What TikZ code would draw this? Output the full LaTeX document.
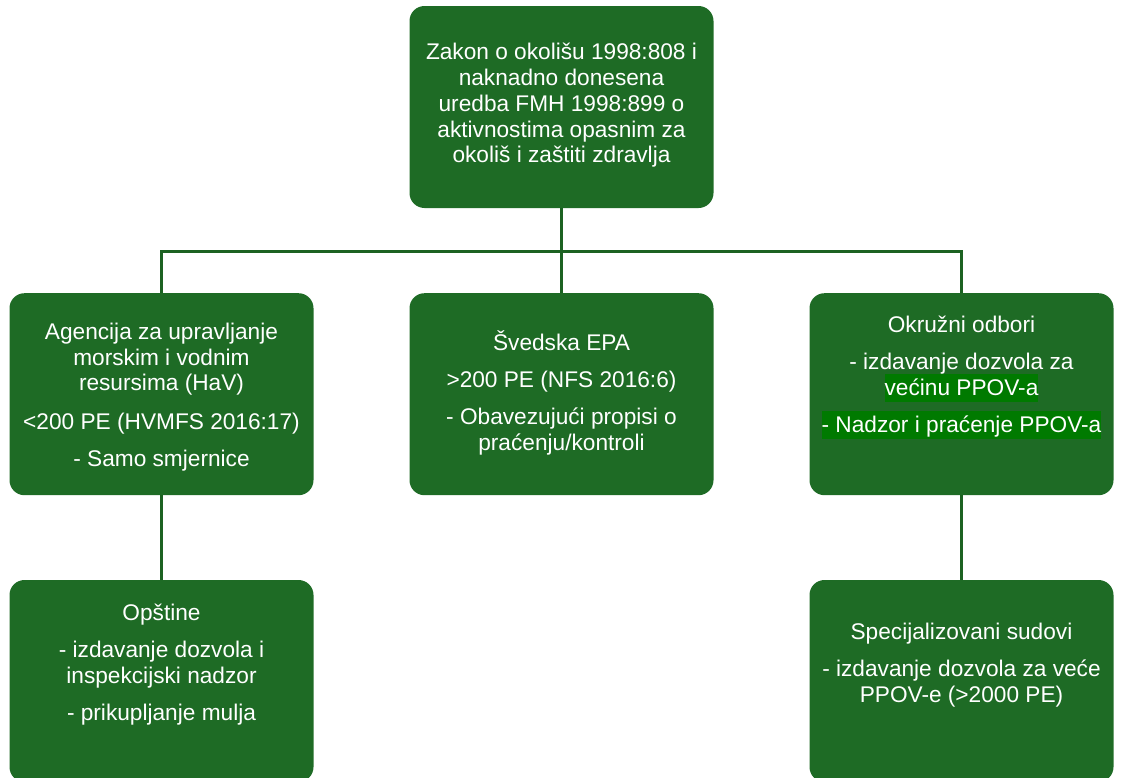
\documentclass[tikz,border=0pt]{standalone}
\usepackage{fontspec}
\setmainfont{Liberation Sans}
\definecolor{boxgreen}{RGB}{30,107,37}
\definecolor{linegreen}{RGB}{28,98,34}
\definecolor{hlgreen}{RGB}{0,122,0}
\newcommand{\hlt}[1]{{\setlength{\fboxsep}{0pt}\colorbox{hlgreen}{\rule[-4.7pt]{0pt}{21.2pt}#1}}}
\newcommand{\fs}{\rule{0pt}{17pt}}
\begin{document}
\lineskiplimit=-30pt\relax
\begin{tikzpicture}[x=0.75pt,y=-0.75pt,
  gbox/.style={rectangle, rounded corners=11.25pt, fill=boxgreen, minimum width=228pt, minimum height=151.5pt, inner sep=0pt},
  gtext/.style={anchor=north, inner sep=0pt, text=white, align=center,
    font=\fontsize{17}{19.35}\selectfont},
  conn/.style={draw=linegreen, line width=2.25pt}]
\useasboundingbox (0,0) rectangle (1122,778);
\clip (0,0) rectangle (1122,778);
% boxes
\node[gbox] (top) at (561.5,107) {};
\node[gbox] (hav) at (161.5,394.2) {};
\node[gbox] (epa) at (561.5,394.2) {};
\node[gbox] (okr) at (961.5,394.2) {};
\node[gbox] (ops) at (161.5,681) {};
\node[gbox] (sud) at (961.5,681) {};
% texts
\node[gtext] (ttop) at (561.5,36.8) {\fs Zakon o okolišu 1998:808 i\\naknadno donesena\\uredba FMH 1998:899 o\\aktivnostima opasnim za\\okoliš i zaštiti zdravlja};
\node[gtext] (thav) at (161.5,316.3) {\fs Agencija za upravljanje\\morskim i vodnim\\resursima (HaV)\\[9.5pt]<200 PE (HVMFS 2016:17)\\[8.4pt]- Samo smjernice};
\node[gtext] (tepa) at (561.5,328) {\fs Švedska EPA\\[8.4pt]>200 PE (NFS 2016:6)\\[8.4pt]- Obavezujući propisi o\\praćenju/kontroli};
\node[gtext] (tokr) at (961.5,310) {\fs Okružni odbori\\[8.4pt]- izdavanje dozvola za\\\hlt{većinu PPOV-a}\\[8.4pt]\hlt{- Nadzor i praćenje PPOV-a}};
\node[gtext] (tops) at (161.5,597.3) {\fs Opštine\\[8.4pt]- izdavanje dozvola i\\inspekcijski nadzor\\[8.4pt]- prikupljanje mulja};
\node[gtext] (tsud) at (961.5,616.3) {\fs Specijalizovani sudovi\\[8.4pt]- izdavanje dozvola za veće\\PPOV-e (>2000 PE)};
% connectors
\coordinate (bus) at (561.5,251.5);
\draw[conn] (top.south) -- (bus);
\draw[conn] (hav.north) |- (bus) -| (okr.north);
\draw[conn] (epa.north) -- (bus);
\draw[conn] (hav.south) -- (ops.north);
\draw[conn] (okr.south) -- (sud.north);
\end{tikzpicture}
\end{document}
